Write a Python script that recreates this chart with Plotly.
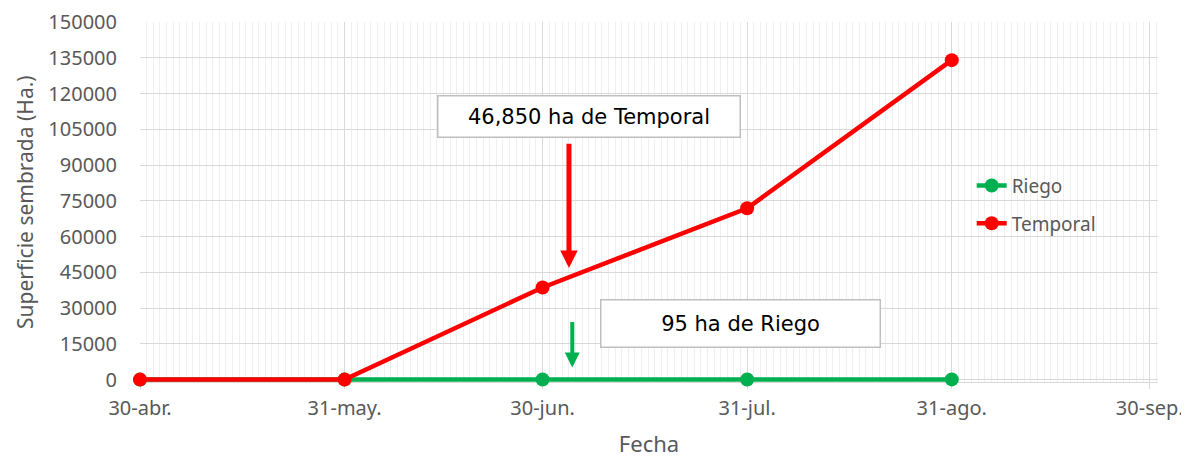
import plotly.graph_objects as go

fechas = ["2023-04-30", "2023-05-31", "2023-06-30", "2023-07-31", "2023-08-31"]
riego = [0, 0, 30, 60, 95]
temporal = [0, 0, 38650, 71850, 134000]

tick_vals = ["2023-04-30", "2023-05-31", "2023-06-30", "2023-07-31", "2023-08-31", "2023-09-30"]
tick_text = ["30-abr.", "31-may.", "30-jun.", "31-jul.", "31-ago.", "30-sep."]
y_ticks = list(range(0, 150001, 15000))

txt_temporal = "46,850 ha de Temporal"
txt_riego = "95 ha de Riego"
y_title = "Superficie sembrada (Ha.)"

gray = "#595959"
font_axis = "Noto Sans"

fig = go.Figure()
fig.add_trace(go.Scatter(x=fechas, y=riego, name="Riego", mode="lines+markers",
                         legendgroup="r", cliponaxis=False,
                         line=dict(color="#00B050", width=4.5),
                         marker=dict(color="#00B050", size=14)))
fig.add_trace(go.Scatter(x=fechas, y=temporal, name="Temporal", mode="lines+markers",
                         legendgroup="t", cliponaxis=False,
                         line=dict(color="#FF0000", width=4.5),
                         marker=dict(color="#FF0000", size=14)))

fig.update_layout(
    width=1181, height=450,
    margin=dict(l=132, r=31, t=14, b=76),
    paper_bgcolor="white", plot_bgcolor="white",
    font=dict(family=font_axis, color=gray, size=20),
    showlegend=True,
    legend=dict(x=0.817, y=0.598, xanchor="left", yanchor="top",
                bgcolor="rgba(0,0,0,0)", font=dict(size=19, color=gray),
                traceorder="grouped", tracegroupgap=10),
    xaxis=dict(
        type="date", automargin=False, layer="below traces",
        range=["2023-04-30", "2023-10-01 06:00"],
        tickmode="array", tickvals=tick_vals, ticktext=tick_text,
        showgrid=True, gridcolor="#d9d9d9", gridwidth=1.3,
        showline=True, linecolor="#d9d9d9", linewidth=1.3,
        ticks="outside", ticklen=6, tickcolor="#d9d9d9",
        ticklabelstandoff=2,
        minor=dict(dtick=86400000, tick0="2023-04-30", showgrid=True,
                   gridcolor="#efefef", gridwidth=1),
        title=dict(text="Fecha", font=dict(size=22, color=gray), standoff=16),
        tickfont=dict(size=20, color=gray),
        zeroline=False,
    ),
    yaxis=dict(
        automargin=False, layer="below traces",
        range=[-1000, 150000],
        tickmode="array", tickvals=y_ticks, ticktext=[str(v) for v in y_ticks],
        showgrid=True, gridcolor="#d9d9d9", gridwidth=1.3,
        minor=dict(showgrid=False),
        zeroline=False, showline=False,
        ticks="", ticklabelstandoff=22,
        tickfont=dict(size=20, color=gray),
    ),
)

# Y axis title
fig.add_annotation(xref="paper", yref="paper", x=0, y=0.5, xanchor="center", yanchor="middle",
                   xshift=-115, textangle=-90, showarrow=False, text=y_title,
                   font=dict(family=font_axis, size=21, color=gray))

# Arrows
fig.add_annotation(x="2023-07-04", y=46850, ax="2023-07-04", ay=99580,
                   xref="x", yref="y", axref="x", ayref="y", text="",
                   showarrow=True, arrowhead=2, arrowsize=0.7, arrowwidth=5,
                   arrowcolor="#FF0000")
fig.add_annotation(x="2023-07-04 12:00", y=5040, ax="2023-07-04 12:00", ay=24790,
                   xref="x", yref="y", axref="x", ayref="y", text="",
                   showarrow=True, arrowhead=2, arrowsize=0.75, arrowwidth=4,
                   arrowcolor="#00B050")

# Text boxes
fig.add_annotation(x="2023-07-07", y=110500, xref="x", yref="y", text=txt_temporal,
                   showarrow=False, bgcolor="white", bordercolor="#bfbfbf", borderwidth=1.5,
                   borderpad=0, width=301, height=40,
                   font=dict(family="DejaVu Sans", size=21, color="black"))
fig.add_annotation(x="2023-07-30", y=23530, xref="x", yref="y", text=txt_riego,
                   showarrow=False, bgcolor="white", bordercolor="#bfbfbf", borderwidth=1.5,
                   borderpad=0, width=278, height=46,
                   font=dict(family="DejaVu Sans", size=21, color="black"))

fig.write_html("out.html")
